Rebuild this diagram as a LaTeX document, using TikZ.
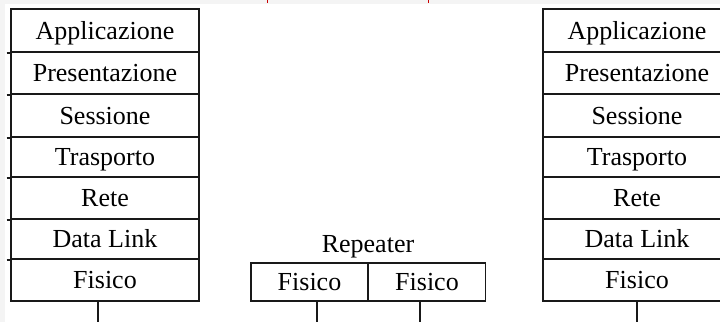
\documentclass[tikz,border=0pt]{standalone}
\usepackage{fontspec}
\setmainfont{Liberation Serif}
\begin{document}
\begin{tikzpicture}[x=1pt,y=-1pt,
  ink/.style={draw=black!90, line width=1.7pt},
  layer/.style={ink, rectangle, inner sep=0pt, minimum width=188pt,
    text height=17pt, text depth=0pt,
    font=\fontsize{26}{30}\selectfont},
  cell/.style={layer, minimum width=117pt, minimum height=38pt},
  wire/.style={ink},
  tick/.style={draw=black!90, line width=1.5pt}]
\useasboundingbox (0,0) rectangle (720,322);
\clip (0,0) rectangle (720,322);
% faint scan border along top and left
\fill[gray!9] (0,0) rectangle (720,3.5);
\fill[gray!9] (0,0) rectangle (4.5,322);
\draw[red!80!black, line width=1pt] (267,0) -- (267,3);
\draw[red!80!black, line width=1pt] (428,0) -- (428,3);

% left host stack
\node[layer, minimum height=43pt] (la) at (105,30.5)  {Applicazione};
\node[layer, minimum height=42pt] (lp) at (105,73)    {Presentazione};
\node[layer, minimum height=43pt] (ls) at (105,115.5) {Sessione};
\node[layer, minimum height=40pt] (lt) at (105,157)   {Trasporto};
\node[layer, minimum height=42pt] (lr) at (105,198)   {Rete};
\node[layer, minimum height=40pt] (ld) at (105,239)   {Data Link};
\node[layer, minimum height=42pt] (lf) at (105,280)   {Fisico};
\foreach \n in {la,lp,ls,lt,lr,ld}
  \draw[tick] (\n.south west) ++(-3.5,0) -- (\n.south west);

% right host stack
\node[layer, minimum height=43pt] (ra) at (637,30.5)  {Applicazione};
\node[layer, minimum height=42pt] (rp) at (637,73)    {Presentazione};
\node[layer, minimum height=43pt] (rs) at (637,115.5) {Sessione};
\node[layer, minimum height=40pt] (rt) at (637,157)   {Trasporto};
\node[layer, minimum height=42pt] (rr) at (637,198)   {Rete};
\node[layer, minimum height=40pt] (rd) at (637,239)   {Data Link};
\node[layer, minimum height=42pt] (rf) at (637,280)   {Fisico};

% repeater
\node[cell] (pf1) at (309.5,282) {Fisico};
\node[cell] (pf2) at (427,282)   {Fisico};
\node[font=\fontsize{26}{30}\selectfont, inner sep=0pt, anchor=base]
  (rep) at (368,252) {Repeater};

% media attachments
\coordinate (lw) at (98,322);
\coordinate (pw1) at (317,322);
\coordinate (pw2) at (420,322);
\coordinate (rw) at (637,322);
\draw[wire] (lf.south -| lw) -- (lw);
\draw[wire] (pf1.south -| pw1) -- (pw1);
\draw[wire] (pf2.south -| pw2) -- (pw2);
\draw[wire] (rf.south -| rw) -- (rw);
\end{tikzpicture}
\end{document}
